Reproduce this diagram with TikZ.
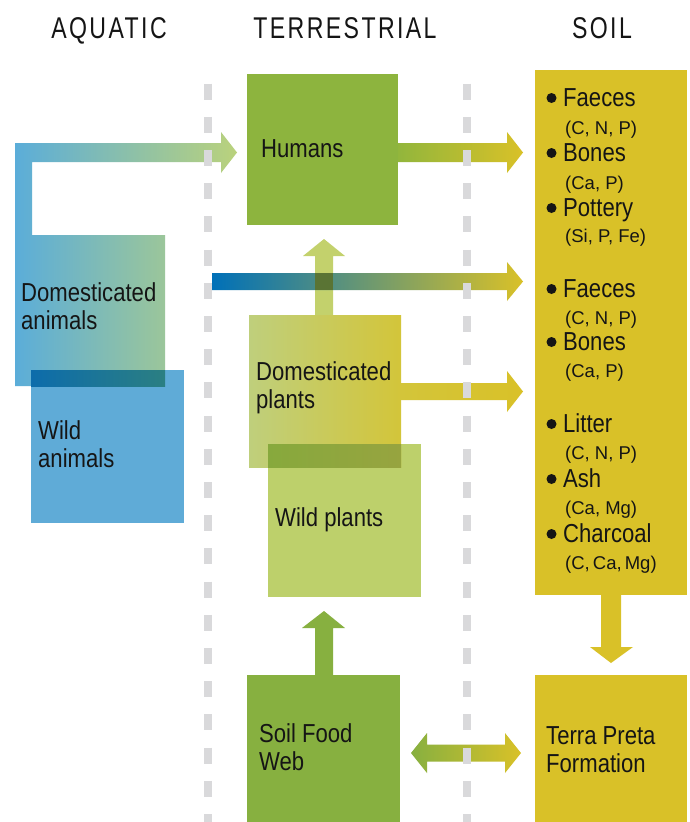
\documentclass[tikz,border=0pt]{standalone}
\usepackage{fontspec}
\setmainfont{Liberation Sans}
\newfontfamily\bodyf[FakeStretch=0.85]{Liberation Sans}
\newfontfamily\headf[FakeStretch=0.77,LetterSpace=8]{Liberation Sans}
\definecolor{humgreen}{HTML}{8DB43E}
\definecolor{sfwgreen}{HTML}{87B040}
\definecolor{gold}{HTML}{D9C128}
\definecolor{wildpl}{HTML}{BDD06B}
\definecolor{dompl}{HTML}{BFCF7C}
\definecolor{dompr}{HTML}{D3C53A}
\definecolor{uplight}{HTML}{C3D16C}
\definecolor{wildan}{HTML}{5FABD7}
\definecolor{lblue}{HTML}{5BADD9}
\definecolor{lgreen}{HTML}{BAD27C}
\definecolor{dblue}{HTML}{0070B8}
\definecolor{arrgreen}{HTML}{92B63C}
\definecolor{dashgray}{HTML}{D9D9DB}
\definecolor{ovpl}{HTML}{87A93D}
\definecolor{ovpr}{HTML}{97A43F}
\definecolor{oval}{HTML}{0D6CAB}
\definecolor{ovar}{HTML}{2B7F82}
\definecolor{ovcross}{HTML}{5A7434}
\definecolor{txt}{HTML}{151515}
\begin{document}
\begin{tikzpicture}[x=1pt,y=-1pt,
  boxst/.style={inner sep=0pt, outer sep=0pt, draw=none, anchor=north west},
  lbl/.style={inner sep=0pt, anchor=base west, text=txt, font=\bodyf\fontsize{26}{30}\selectfont},
  sublbl/.style={inner sep=0pt, anchor=base west, text=txt, font=\fontsize{18.5}{22}\selectfont},
  headst/.style={inner sep=0pt, anchor=base, text=txt, font=\headf\fontsize{30}{34}\selectfont},
  dot/.style={fill=txt},
  dashline/.style={line width=8pt, draw=dashgray, dash pattern=on 16pt off 17.2pt}]
\useasboundingbox (0,0) rectangle (690,822);
\fill[white] (0,0) rectangle (690,822);

% headings
\node[headst] (hA) at (109,38) {AQUATIC};
\node[headst] (hT) at (345,38) {TERRESTRIAL};
\node[headst] (hS) at (602,38) {SOIL};

% boxes
\node[boxst, fill=humgreen, minimum width=151pt, minimum height=151pt] (humans) at (247,74) {};
\node[boxst, fill=gold, minimum width=152pt, minimum height=525pt] (soil) at (535,70) {};
\node[boxst, fill=gold, minimum width=152pt, minimum height=147pt] (terra) at (535,675) {};
\node[boxst, fill=sfwgreen, minimum width=153pt, minimum height=147pt] (sfw) at (247,675) {};
\node[boxst, fill=wildpl, minimum width=153pt, minimum height=153pt] (wildp) at (268,444) {};

% up arrow domesticated plants -> humans
\fill[uplight] (315,315) -- (315,256) -- (303,256) -- (324,239) -- (345,256) -- (333,256) -- (333,315) -- cycle;

% domesticated plants box
\node[boxst, left color=dompl, right color=dompr, minimum width=152pt, minimum height=152pt] (domp) at (249,315) {};
% overlap domesticated / wild plants
\shade[left color=ovpl, right color=ovpr] (268,444) rectangle (401,467);

% domesticated animals with its arrow to humans
\shade[left color=lblue, right color=lgreen]
  (15,143) -- (221,143) -- (221,132) -- (237,152.5) -- (221,173) -- (221,162)
  -- (32,162) -- (32,235) -- (165,235) -- (165,386) -- (15,386) -- cycle;
% wild animals
\node[boxst, fill=wildan, minimum width=153pt, minimum height=153pt] (wilda) at (31,370) {};
\shade[left color=oval, right color=ovar] (31,370) rectangle (165,386);

% arrows to soil
\shade[left color=arrgreen, right color=gold]
  (398,143) -- (507,143) -- (507,132) -- (523,152.5) -- (507,173) -- (507,162) -- (398,162) -- cycle;
\shade[left color=dblue, right color=gold]
  (212,273) -- (507,273) -- (507,262) -- (523,281.5) -- (507,301) -- (507,290) -- (212,290) -- cycle;
\fill[ovcross] (315,273) rectangle (333,290);
\shade[left color=dompr, right color=gold]
  (401,383) -- (507,383) -- (507,371) -- (523,391.5) -- (507,412) -- (507,400) -- (401,400) -- cycle;

% soil -> terra preta
\fill[gold] (601,595) -- (601,647) -- (590,647) -- (611,663) -- (633,647) -- (621,647) -- (621,595) -- cycle;
% soil food web -> wild plants
\fill[sfwgreen] (315,675) -- (315,628) -- (302,628) -- (324,611) -- (345,628) -- (333,628) -- (333,675) -- cycle;
% soil food web <-> terra preta
\shade[left color=sfwgreen, right color=gold]
  (411,753) -- (427,733) -- (427,744.5) -- (505,744.5) -- (505,733) -- (521,753)
  -- (505,773) -- (505,761.5) -- (427,761.5) -- (427,773) -- cycle;

% dashed separators
\draw[dashline] (207.5,83.6) -- (207.5,822);
\draw[dashline] (466.5,83.6) -- (466.5,822);

% labels
\node[lbl] (tH) at (261,157) {Humans};
\node[lbl] (tDA1) at (21,301) {Domesticated};
\node[lbl] (tDA2) at (21,329) {animals};
\node[lbl] (tWA1) at (38,439) {Wild};
\node[lbl] (tWA2) at (38,467) {animals};
\node[lbl] (tDP1) at (256,380) {Domesticated};
\node[lbl] (tDP2) at (256,408) {plants};
\node[lbl] (tWP) at (275,526) {Wild plants};
\node[lbl] (tS1) at (259,742) {Soil Food};
\node[lbl] (tS2) at (259,770) {Web};
\node[lbl] (tT1) at (546,744) {Terra Preta};
\node[lbl] (tT2) at (546,772) {Formation};

% soil list
\foreach \yb in {106,161,216,297,350,432,487,542}
  \fill[dot] (551.5,\yb-8) circle (5);
\node[lbl] (s1) at (563,106) {Faeces};
\node[sublbl] (s1a) at (565,134) {(C, N, P)};
\node[lbl] (s2) at (563,161) {Bones};
\node[sublbl] (s2a) at (565,189) {(Ca, P)};
\node[lbl] (s3) at (563,216) {Pottery};
\node[sublbl] (s3a) at (565,242) {(Si, P, Fe)};
\node[lbl] (s4) at (563,297) {Faeces};
\node[sublbl] (s4a) at (565,324) {(C, N, P)};
\node[lbl] (s5) at (563,350) {Bones};
\node[sublbl] (s5a) at (565,377) {(Ca, P)};
\node[lbl] (s6) at (563,432) {Litter};
\node[sublbl] (s6a) at (565,459) {(C, N, P)};
\node[lbl] (s7) at (563,487) {Ash};
\node[sublbl] (s7a) at (565,514) {(Ca, Mg)};
\node[lbl] (s8) at (563,542) {Charcoal};
\node[sublbl] (s8a) at (565,569) {(C,\,Ca,\,Mg)};
\end{tikzpicture}
\end{document}
